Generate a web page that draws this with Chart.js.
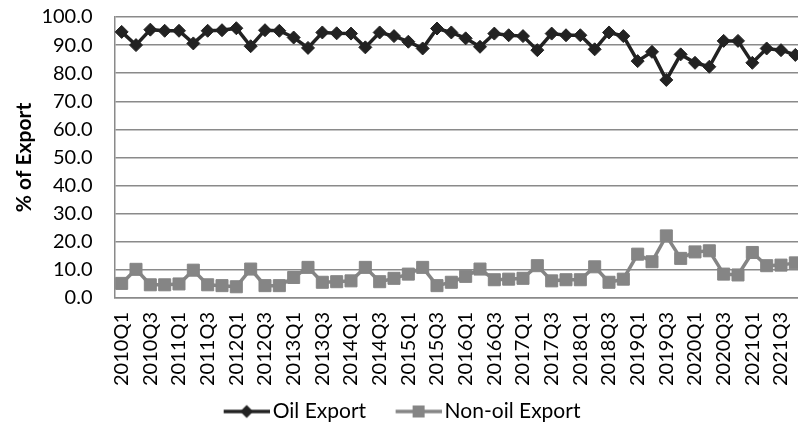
<!DOCTYPE html>
<html>
<head>
<meta charset="utf-8">
<script src="https://cdn.jsdelivr.net/npm/chart.js@4/dist/chart.umd.min.js"></script>
<style>
  html, body { margin: 0; padding: 0; background: #fff; overflow: hidden; width: 798px; height: 429px; }
  #wrap { position: relative; width: 812px; height: 429px; }
</style>
</head>
<body>
<div id="wrap"><canvas id="c" width="812" height="429"></canvas></div>
<script>
const quarters = [
  "2010Q1","2010Q2","2010Q3","2010Q4","2011Q1","2011Q2","2011Q3","2011Q4",
  "2012Q1","2012Q2","2012Q3","2012Q4","2013Q1","2013Q2","2013Q3","2013Q4",
  "2014Q1","2014Q2","2014Q3","2014Q4","2015Q1","2015Q2","2015Q3","2015Q4",
  "2016Q1","2016Q2","2016Q3","2016Q4","2017Q1","2017Q2","2017Q3","2017Q4",
  "2018Q1","2018Q2","2018Q3","2018Q4","2019Q1","2019Q2","2019Q3","2019Q4",
  "2020Q1","2020Q2","2020Q3","2020Q4","2021Q1","2021Q2","2021Q3","2021Q4"
];
const oilExport = [
  94.7, 90.0, 95.5, 95.1, 95.1, 90.6, 95.1, 95.3,
  96.0, 89.6, 95.3, 95.1, 92.7, 89.0, 94.5, 94.2,
  94.1, 89.2, 94.5, 93.2, 91.2, 88.8, 95.9, 94.5,
  92.4, 89.4, 94.1, 93.5, 93.2, 88.2, 94.1, 93.5,
  93.5, 88.5, 94.5, 93.2, 84.3, 87.6, 77.6, 86.7,
  83.7, 82.3, 91.5, 91.5, 83.7, 88.8, 88.2, 86.5
];
const nonOilExport = [
  5.2, 10.2, 4.7, 4.7, 5.0, 9.9, 4.7, 4.4,
  4.0, 10.3, 4.4, 4.4, 7.3, 10.9, 5.6, 5.8,
  6.1, 10.9, 5.8, 7.0, 8.5, 10.9, 4.4, 5.6,
  7.7, 10.3, 6.5, 6.7, 7.0, 11.5, 6.1, 6.5,
  6.5, 11.1, 5.6, 6.7, 15.6, 12.9, 22.1, 14.1,
  16.4, 16.8, 8.5, 8.2, 16.2, 11.5, 11.7, 12.5
];
const seriesNames = ["Oil Export", "Non-oil Export"];
const yTicks = [0, 10, 20, 30, 40, 50, 60, 70, 80, 90, 100];

const OIL_COLOR = "#222222";
const NONOIL_COLOR = "#858585";
const GRID_COLOR = "#8a8a8a";
const FONT = "Lato";

function legendSwatch(color, shape) {
  const W = 71, H = 20;
  const cv = document.createElement("canvas");
  cv.width = W; cv.height = H;
  const g = cv.getContext("2d");
  const x0 = 25, x1 = 71, cy = H / 2;
  g.strokeStyle = color; g.lineWidth = 3.5;
  g.beginPath(); g.moveTo(x0, cy); g.lineTo(x1, cy); g.stroke();
  g.fillStyle = color;
  const cx = (x0 + x1) / 2;
  g.beginPath();
  if (shape === "diamond") {
    g.moveTo(cx, cy - 6.5); g.lineTo(cx + 6.5, cy); g.lineTo(cx, cy + 6.5); g.lineTo(cx - 6.5, cy); g.closePath();
  } else {
    g.rect(cx - 6, cy - 6, 12, 12);
  }
  g.fill();
  return cv;
}
const swatches = [legendSwatch(OIL_COLOR, "diamond"), legendSwatch(NONOIL_COLOR, "square")];

const LEGEND_H = 40;
const LEGEND_DX = -11;
const legendSizer = {
  id: "legendSizer",
  beforeLayout(chart) {
    const lg = chart.legend;
    if (lg && !lg._sized) {
      const origFit = lg.fit;
      lg.fit = function () { origFit.call(this); this.height = LEGEND_H; };
      const origDraw = lg.draw;
      lg.draw = function () {
        const ctx = this.ctx;
        ctx.save(); ctx.translate(LEGEND_DX, 0);
        origDraw.call(this);
        ctx.restore();
      };
      lg._sized = true;
    }
  }
};

new Chart(document.getElementById("c"), {
  type: "line",
  data: {
    labels: quarters,
    datasets: [
      {
        label: seriesNames[0],
        data: oilExport,
        borderColor: OIL_COLOR,
        backgroundColor: OIL_COLOR,
        borderWidth: 3.5,
        pointStyle: "rectRot",
        pointRadius: 6.5,
        pointBackgroundColor: OIL_COLOR,
        pointBorderColor: OIL_COLOR,
        pointBorderWidth: 1,
        tension: 0,
        fill: false
      },
      {
        label: seriesNames[1],
        data: nonOilExport,
        borderColor: NONOIL_COLOR,
        backgroundColor: NONOIL_COLOR,
        borderWidth: 3.5,
        pointStyle: "rect",
        pointRadius: 8.5,
        pointBackgroundColor: NONOIL_COLOR,
        pointBorderColor: NONOIL_COLOR,
        pointBorderWidth: 1,
        tension: 0,
        fill: false
      }
    ]
  },
  plugins: [legendSizer],
  options: {
    responsive: false,
    animation: false,
    devicePixelRatio: 1,
    layout: { padding: { left: 0, right: 3.4, top: 17, bottom: 0 } },
    plugins: {
      tooltip: { enabled: false },
      legend: {
        position: "bottom",
        labels: {
          font: { family: FONT, size: 21 },
          color: "#000",
          usePointStyle: true,
          pointStyleWidth: 56,
          padding: 12,
          generateLabels(chart) {
            const items = Chart.defaults.plugins.legend.labels.generateLabels(chart);
            items.forEach((it, i) => { it.pointStyle = swatches[i]; });
            return items;
          }
        }
      }
    },
    scales: {
      x: {
        offset: true,
        grid: { display: false, drawTicks: false },
        border: { display: true, color: GRID_COLOR, width: 1.5 },
        ticks: {
          autoSkip: false,
          maxRotation: 90,
          minRotation: 90,
          padding: 14,
          color: "#000",
          font: { family: FONT, size: 20 },
          callback: function (v, i) { return i % 2 === 0 ? quarters[i] : ""; }
        },
        afterFit(scale) {
          scale.height = 91;
          scale.paddingLeft = 0;
          scale.paddingRight = 0;
        }
      },
      y: {
        min: 0,
        max: 100,
        afterBuildTicks(scale) { scale.ticks = yTicks.map(v => ({ value: v })); },
        grid: { color: GRID_COLOR, lineWidth: 1.5, drawTicks: false },
        border: { display: true, color: GRID_COLOR, width: 1.5 },
        ticks: {
          autoSkip: false,
          padding: 22,
          color: "#000",
          font: { family: FONT, size: 20 },
          callback: v => Number(v).toFixed(1)
        },
        title: {
          display: true,
          text: "% of Export",
          color: "#000",
          font: { family: FONT, size: 21, weight: "bold" },
          padding: { top: 12, bottom: 4 }
        },
        afterFit(scale) {
          scale.width = 114.5;
          scale.paddingTop = 0;
          scale.paddingBottom = 0;
        }
      }
    }
  }
});
</script>
</body>
</html>
